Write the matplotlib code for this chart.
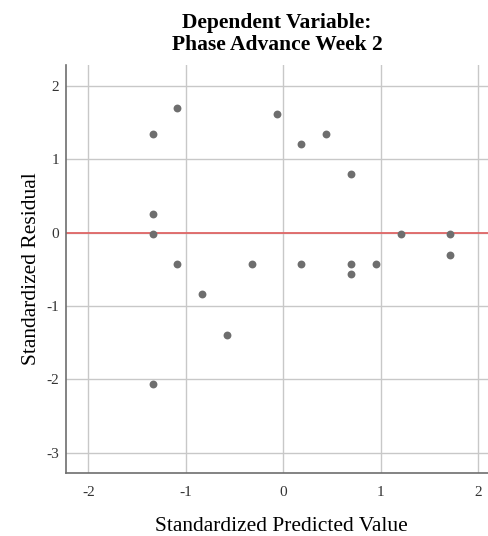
import matplotlib.pyplot as plt

# standardized predicted value vs standardized residual
pred = [-1.34, -1.34, -1.34, -1.34, -1.087, -1.087, -0.83, -0.574, -0.32, -0.068,
        0.185, 0.185, 0.44, 0.694, 0.694, 0.694, 0.948, 1.204, 1.71, 1.71]
resid = [1.35, 0.255, -0.02, -2.07, 1.705, -0.427, -0.84, -1.39, -0.427, 1.62,
         1.21, -0.427, 1.347, 0.797, -0.427, -0.57, -0.427, -0.02, -0.02, -0.30]
xticks = [-2, -1, 0, 1, 2]
yticks = [-3, -2, -1, 0, 1, 2]

plt.rcParams['font.family'] = ['Liberation Serif', 'DejaVu Serif']
plt.rcParams['axes.unicode_minus'] = False

fig = plt.figure(figsize=(4.88, 5.36), dpi=100)
ax = fig.add_axes([0.135, 0.1175, 0.865, 0.7615])

ax.set_xlim(-2.23, 2.10)
ax.set_ylim(-3.28, 2.29)
ax.set_xticks(xticks)
ax.set_yticks(yticks)
ax.grid(True, color='#c8c8c8', linewidth=1)
ax.set_axisbelow(True)

ax.axhline(0, color='#e06666', linewidth=1.3, zorder=2)
ax.scatter(pred, resid, s=32, color='#6e6e6e', zorder=3, linewidths=0)

for side in ['top', 'right']:
    ax.spines[side].set_visible(False)
for side in ['left', 'bottom']:
    ax.spines[side].set_color('#6e6e6e')
    ax.spines[side].set_linewidth(1.2)

ax.tick_params(length=0, labelsize=11, labelcolor='#333333')
ax.tick_params(axis='x', pad=9)
ax.tick_params(axis='y', pad=5)

ax.set_title("Dependent Variable:\nPhase Advance Week 2", fontsize=15.5,
             fontweight='bold', pad=11, linespacing=1.1)
ax.set_xlabel("Standardized Predicted Value", fontsize=15.5, labelpad=13, x=0.51)
ax.set_ylabel("Standardized Residual", fontsize=15.5, labelpad=4)

fig.savefig("out.png", dpi=100)
